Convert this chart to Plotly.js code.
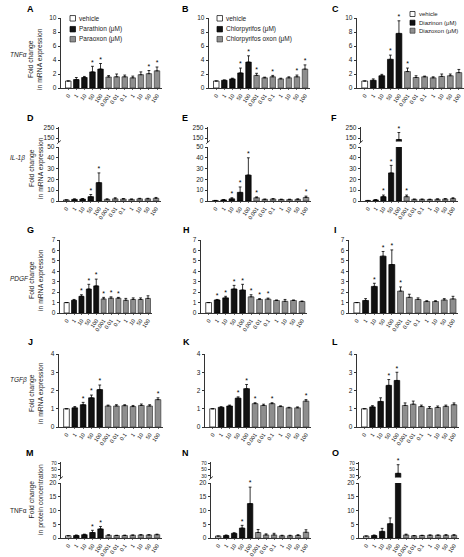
<!DOCTYPE html>
<html><head><meta charset="utf-8">
<script src="https://cdn.plot.ly/plotly-3.0.1.min.js"></script>
<style>html,body{margin:0;padding:0;background:#fff}#chart{width:464px;height:557px}</style>
</head><body><div id="chart"></div>
<script>
// ---------------- DATA ----------------
const doses = ['0','1','10','50','100','0.001','0.01','0.1','1','10','50','100'];
// v = vehicle, c = parent compound, o = oxon
const doseGroup = ['v','c','c','c','c','o','o','o','o','o','o','o'];

const panelLetters = ['A','B','C','D','E','F','G','H','I','J','K','L','M','N','O'];
const rowGenes = ['TNFα','IL-1β','PDGF','TGFβ','TNFα'];
const rowGeneItalic = [true,true,true,true,false];
const rowTitles = ['Fold change<br>in mRNA expression','Fold change<br>in mRNA expression','Fold change<br>in mRNA expression','Fold change<br>in mRNA expression','Fold change<br>in protein concentration'];
const legendVehicle = ['vehicle','vehicle','vehicle'];
const legendCompound = ['Parathion (μM)','Chlorpyrifos (μM)','Diazinon (μM)'];
const legendOxon = ['Paraoxon (μM)','Chlorpyrifos oxon (μM)','Diazoxon (μM)'];

// y tick values per row (lower segment), upper segment for broken axes
const rowLowerRange = [[0,10],[0,50],[0,7],[0,4],[0,20]];
const rowLowerTicks = [[0,2,4,6,8,10],[0,10,20,30,40,50],[0,1,2,3,4,5,6,7],[0,1,2,3,4],[0,5,10,15,20]];
const rowUpperRange = [null,[115,265],null,null,[25,75]];
const rowUpperTicks = [null,[150,250],null,null,[30,50,70]];

// TNFa mRNA
const A_mean = [1.0,1.2,1.5,2.3,2.7,1.57,1.6,1.6,1.45,1.9,2.05,2.45];
const A_err  = [0,0.3,0.15,0.8,0.8,0.2,0.4,0.25,0.25,0.4,0.45,0.55];
const A_sig  = [0,0,0,1,1,0,0,0,0,0,1,1];
const B_mean = [1.0,1.1,1.3,2.15,3.7,1.8,1.45,1.6,1.3,1.45,1.6,2.7];
const B_err  = [0,0.05,0.1,0.7,0.9,0.3,0.1,0.2,0.1,0.15,0.25,0.6];
const B_sig  = [0,0,0,1,1,1,0,1,0,0,1,1];
const C_mean = [1.0,1.1,1.75,4.1,7.8,2.35,1.5,1.6,1.45,1.65,1.75,2.2];
const C_err  = [0,0.2,0.2,0.6,1.8,0.5,0.25,0.1,0.15,0.35,0.25,0.45];
const C_sig  = [0,0,0,1,1,1,0,0,0,0,0,0];
// IL-1b mRNA
const D_mean = [1,1.5,1.8,4,17,1.5,2,1.8,1.5,2,2,2.5];
const D_err  = [0,0.5,0.5,2,9,0.5,1,0.5,0.4,0.5,0.5,0.8];
const D_sig  = [0,0,0,1,1,0,0,0,0,0,0,0];
const E_mean = [0.5,1,2,8,24,3,1.5,1.8,1.4,1.3,1.5,3.3];
const E_err  = [0,0.4,1,5,16,0.8,0.3,0.4,0.3,0.4,0.5,1.2];
const E_sig  = [0,0,1,1,1,1,0,0,0,0,0,1];
const F_mean = [0.5,1,4,26,135,4,1.5,1.5,1.4,1.6,1.8,2.2];
const F_err  = [0,0.3,1.5,7,70,1.5,0.3,0.3,0.3,0.4,0.4,0.8];
const F_sig  = [0,0,1,1,1,1,0,0,0,0,0,0];
// PDGF mRNA
const G_mean = [1,1.22,1.6,2.3,2.6,1.35,1.42,1.42,1.22,1.3,1.3,1.4];
const G_err  = [0,0.08,0.15,0.45,0.65,0.15,0.13,0.08,0.18,0.15,0.15,0.25];
const G_sig  = [0,0,1,1,1,1,1,1,0,0,0,0];
const H_mean = [1,1.25,1.45,2.3,2.2,1.55,1.3,1.33,1.2,1.12,1.2,1.1];
const H_err  = [0,0.05,0.15,0.35,0.55,0.2,0.08,0.1,0.05,0.18,0.05,0.05];
const H_sig  = [0,1,1,1,1,1,1,1,0,0,0,0];
const I_mean = [1,1.2,2.55,5.45,4.65,2.1,1.5,1.3,1.1,1.1,1.25,1.35];
const I_err  = [0,0.18,0.3,0.45,1.4,0.4,0.3,0.15,0.08,0.08,0.13,0.25];
const I_sig  = [0,0,1,1,1,1,0,0,0,0,0,0];
// TGFb mRNA
const J_mean = [1,1.05,1.22,1.6,2.05,1.15,1.15,1.17,1.12,1.18,1.15,1.5];
const J_err  = [0,0.07,0.13,0.15,0.25,0.05,0.07,0.05,0.06,0.08,0.07,0.1];
const J_sig  = [0,0,1,1,1,0,0,0,0,0,0,1];
const K_mean = [1,1.08,1.15,1.58,2.1,1.28,1.18,1.28,1.12,1.05,1.05,1.42];
const K_err  = [0,0.03,0.05,0.07,0.23,0.05,0.07,0.05,0.04,0.03,0.05,0.08];
const K_sig  = [0,0,0,1,1,1,0,1,0,0,0,1];
const L_mean = [1,1.1,1.4,2.28,2.55,1.18,1.25,1.12,1.02,1.07,1.13,1.22];
const L_err  = [0,0.07,0.2,0.32,0.45,0.14,0.17,0.08,0.1,0.08,0.07,0.1];
const L_sig  = [0,0,0,1,1,0,0,0,0,0,0,0];
// TNFa protein
const M_mean = [0.8,0.9,1.2,2.0,3.3,1.0,0.9,0.9,1.0,1.1,1.1,1.2];
const M_err  = [0,0.2,0.2,0.8,0.9,0.2,0.1,0.15,0.1,0.1,0.1,0.2];
const M_sig  = [0,0,0,1,1,0,0,0,0,0,0,0];
const N_mean = [0.7,0.9,1.7,3.6,12.5,2.0,1.1,1.1,0.8,0.8,0.9,2.1];
const N_err  = [0,0.2,0.2,1.0,6,1.1,0.4,0.6,0.2,0.2,0.3,0.9];
const N_sig  = [0,0,0,1,1,0,0,0,0,0,0,0];
const O_mean = [0.7,0.9,2.4,5.2,38,1.1,0.8,0.9,1.0,1.0,1.0,1.0];
const O_err  = [0,0.2,1.1,2.1,27,0.3,0.1,0.1,0.1,0.1,0.2,0.2];
const O_sig  = [0,0,0,0,1,0,0,0,0,0,0,0];

const panels = [
  [A_mean,A_err,A_sig],[B_mean,B_err,B_sig],[C_mean,C_err,C_sig],
  [D_mean,D_err,D_sig],[E_mean,E_err,E_sig],[F_mean,F_err,F_sig],
  [G_mean,G_err,G_sig],[H_mean,H_err,H_sig],[I_mean,I_err,I_sig],
  [J_mean,J_err,J_sig],[K_mean,K_err,K_sig],[L_mean,L_err,L_sig],
  [M_mean,M_err,M_sig],[N_mean,N_err,N_sig],[O_mean,O_err,O_sig]
];

// ---------------- LAYOUT (pixels) ----------------
const W = 464, H = 557;
const FONT = 'Liberation Sans, Arial, Helvetica, sans-serif';
// [y-axis x position, last bar centre x] per row / column
const colPx = [
  [[61,157],[209,305],[357,461]],
  [[59,156],[208,306],[361,453]],
  [[60,148],[201,302],[349,453]],
  [[59,158],[205,306],[357,454]],
  [[61,157],[211,306],[359,454]]
];
const rowYpx = [[18,88],[147,201],[240,313],[354,427],[483,538]];
const upperYpx = [null,[126.5,141.5],null,null,[461.5,477.5]];
const upperTickSize = [null,6.5,null,null,5];
const letterPx = [[31,185,335],[30,185,334],[30,186,335],[30,186,335],[30,185,335]];
const letterY = [9,118,230,342,453];
const geneY = [54,158,278,380,510];
const titleY = [59,168,280,393,500];
const legendPx = [
  {x:70, ys:[18.3,29.2,39.2], box:5.5, size:6.5},
  {x:217, ys:[18.3,29.2,39.2], box:5.5, size:6.5},
  {x:410, ys:[14,22.7,30.7], box:5, size:6}
];

const groupStyle = {
  v:{fill:'#ffffff', line:'#000000'},
  c:{fill:'#111111', line:'#000000'},
  o:{fill:'#8e8e8e', line:'#3a3a3a'}
};

const idx = doses.map((d,i)=>i);
const ref = (p,n)=> p + (n>1 ? n : '');
const key = (p,n)=> p + 'axis' + (n>1 ? n : '');

const layout = {
  width:W, height:H, margin:{l:0,r:0,t:0,b:0},
  paper_bgcolor:'#ffffff', plot_bgcolor:'rgba(0,0,0,0)',
  barmode:'overlay', showlegend:false,
  font:{family:FONT, size:7, color:'#222'},
  annotations:[], shapes:[]
};
const traces = [];
let upperN = 16;

function yAxisCommon(sz){
  return {showline:true, linecolor:'#000', linewidth:0.8, ticks:'outside', ticklen:2.5,
    tickwidth:0.8, tickcolor:'#000', showgrid:false, zeroline:false, fixedrange:true,
    tickfont:{size:sz, family:FONT, color:'#222'}};
}

panels.forEach((pd, p)=>{
  const r = Math.floor(p/3), c = p%3, n = p+1;
  const [mean, err, sig] = pd;
  const [ax, last] = colPx[r][c];
  const s = (last-ax)/11.9;
  const xr = ref('x',n), yr = ref('y',n);
  layout[key('x',n)] = {
    domain:[ax/W, Math.min(1,(last+0.6*s)/W)], range:[-0.9,11.6], anchor:yr,
    tickmode:'array', tickvals:idx, ticktext:doses, tickangle:-55,
    tickfont:{size:5.5, family:FONT, color:'#222'},
    showline:true, linecolor:'#000', linewidth:0.8, ticks:'outside', ticklen:1.5,
    tickwidth:0.6, tickcolor:'#000', showgrid:false, zeroline:false, fixedrange:true
  };
  const [yt, yb] = rowYpx[r];
  layout[key('y',n)] = Object.assign(yAxisCommon(6.5), {
    domain:[1-yb/H, 1-yt/H], range:rowLowerRange[r], anchor:xr,
    tickmode:'array', tickvals:rowLowerTicks[r]
  });
  const axes = [{y:yr, lo:rowLowerRange[r][0], hi:rowLowerRange[r][1]}];
  if (rowUpperRange[r]) {
    const un = upperN++;
    const [ut, ub] = upperYpx[r];
    layout[key('y',un)] = Object.assign(yAxisCommon(upperTickSize[r]), {
      domain:[1-ub/H, 1-ut/H], range:rowUpperRange[r], anchor:xr,
      tickmode:'array', tickvals:rowUpperTicks[r]
    });
    axes.push({y:ref('y',un), lo:rowUpperRange[r][0], hi:rowUpperRange[r][1]});
    // axis break mark
    layout.shapes.push({type:'line', xref:'paper', yref:'paper',
      x0:(ax-1.8)/W, x1:(ax+1.8)/W, y0:1-(ub+2.2)/H, y1:1-(ub-1)/H,
      line:{color:'#000', width:0.8}});
  }
  axes.forEach(a=>{
    ['v','c','o'].forEach(g=>{
      const ii = idx.filter(i=>doseGroup[i]===g);
      traces.push({
        type:'bar', xaxis:xr, yaxis:a.y,
        x: ii, y: ii.map(i=>mean[i]), width:0.68,
        marker:{color:groupStyle[g].fill, line:{color:groupStyle[g].line, width:0.7}},
        error_y:{type:'data', symmetric:false, array: ii.map(i=>err[i]), arrayminus: ii.map(()=>0),
          color:'#000', thickness:0.8, width:1.4, visible:true},
        hoverinfo:'skip', showlegend:false
      });
    });
    // significance stars placed on the axis segment containing the error-bar top
    const si = idx.filter(i=>sig[i] && (mean[i]+err[i]) > a.lo && (mean[i]+err[i]) <= a.hi);
    if (si.length) traces.push({
      type:'scatter', mode:'text', xaxis:xr, yaxis:a.y,
      x: si, y: si.map(i=>mean[i]+err[i]), text: si.map(()=>'*'),
      textposition:'top center', textfont:{size:7, family:FONT, color:'#000'},
      cliponaxis:false, hoverinfo:'skip', showlegend:false
    });
  });
  // panel letter
  layout.annotations.push({text:'<b>'+panelLetters[p]+'</b>', xref:'paper', yref:'paper',
    x:letterPx[r][c]/W, y:1-letterY[r]/H, xanchor:'center', yanchor:'middle',
    showarrow:false, font:{size:9, family:FONT, color:'#000'}});
});

// row labels and y titles
rowGenes.forEach((g,r)=>{
  layout.annotations.push({text: rowGeneItalic[r] ? '<i>'+g+'</i>' : g, xref:'paper', yref:'paper',
    x:8/W, y:1-geneY[r]/H, xanchor:'left', yanchor:'middle', showarrow:false,
    font:{size:6.5, family:FONT, color:'#222'}});
  layout.annotations.push({text: rowTitles[r], xref:'paper', yref:'paper', textangle:-90,
    x:36/W, y:1-titleY[r]/H, xanchor:'center', yanchor:'middle', showarrow:false,
    font:{size:6.8, family:FONT, color:'#222'}});
});

// legends (first row)
[0,1,2].forEach(c=>{
  const L = legendPx[c];
  const names = [legendVehicle[c], legendCompound[c], legendOxon[c]];
  ['v','c','o'].forEach((g,k)=>{
    const cy = L.ys[k];
    layout.shapes.push({type:'rect', xref:'paper', yref:'paper',
      x0:L.x/W, x1:(L.x+L.box)/W, y0:1-(cy+L.box/2)/H, y1:1-(cy-L.box/2)/H,
      fillcolor:groupStyle[g].fill, line:{color:groupStyle[g].line, width:0.7}});
    layout.annotations.push({text:names[k], xref:'paper', yref:'paper',
      x:(L.x+L.box+1.5)/W, y:1-cy/H, xanchor:'left', yanchor:'middle', showarrow:false,
      font:{size:L.size, family:FONT, color:'#222'}});
  });
});

Plotly.newPlot('chart', traces, layout, {displayModeBar:false, staticPlot:true});
</script>
</body></html>
